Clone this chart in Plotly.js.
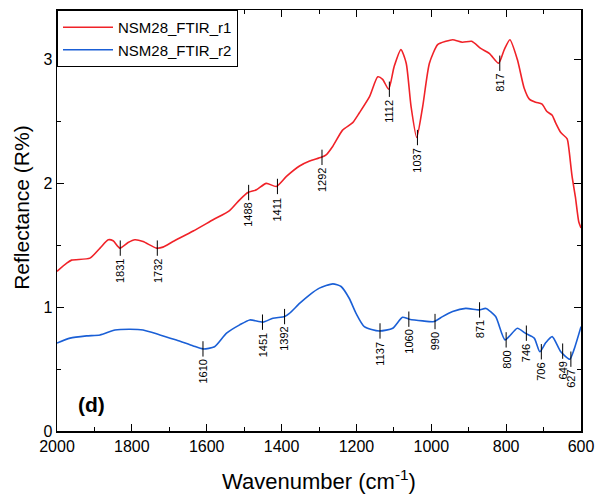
<!DOCTYPE html>
<html>
<head>
<meta charset="utf-8">
<script src="https://cdn.plot.ly/plotly-3.0.1.min.js"></script>
<style>html,body{margin:0;padding:0;background:#fff;}#chart{width:598px;height:497px;}</style>
</head>
<body>
<div id="chart"></div>
<script>
// Series r1 (red)
const r1Wave = [2000,1974,1961,1912,1885,1863,1850,1832,1810,1792,1770,1734,1717,1690,1636,1583,1539,1512,1490,1467,1441,1414,1387,1352,1325,1294,1281,1263,1237,1210,1192,1165,1143,1130,1114,1099,1081,1067,1054,1039,1023,1005,983,961,943,917,892,868,845,820,805,790,770,752,738,721,704,691,677,668,654,637,632,624,615,606,600];
const r1Refl = [1.29,1.356,1.38,1.396,1.477,1.544,1.536,1.477,1.522,1.544,1.53,1.477,1.485,1.53,1.615,1.706,1.78,1.867,1.926,1.948,2.0,1.975,2.056,2.14,2.18,2.21,2.23,2.30,2.43,2.49,2.57,2.70,2.86,2.84,2.76,2.945,3.08,2.97,2.62,2.37,2.62,2.97,3.12,3.147,3.16,3.14,3.147,3.09,3.05,2.97,3.08,3.16,3.0,2.77,2.68,2.655,2.64,2.58,2.55,2.49,2.41,2.36,2.27,2.06,1.89,1.69,1.64];
// Series r2 (blue)
const r2Wave = [2000,1965,1921,1885,1845,1805,1770,1725,1681,1636,1610,1579,1547,1512,1485,1450,1423,1392,1379,1352,1325,1299,1263,1241,1219,1201,1179,1139,1103,1077,1059,1023,992,970,943,908,872,854,828,803,770,749,725,710,694,677,654,630,619,600];
const r2Refl = [0.71,0.75,0.768,0.776,0.816,0.822,0.816,0.776,0.735,0.687,0.663,0.68,0.79,0.857,0.897,0.879,0.911,0.924,0.95,1.03,1.10,1.154,1.188,1.167,1.07,0.95,0.843,0.808,0.83,0.919,0.903,0.889,0.884,0.924,0.965,0.99,0.978,0.99,0.924,0.736,0.83,0.79,0.75,0.64,0.714,0.762,0.64,0.58,0.655,0.843];
// Peak labels
const r1PeakWave = [1831,1732,1488,1411,1292,1112,1037,817];
const r1PeakRefl = [1.477,1.477,1.926,1.975,2.21,2.76,2.37,2.97];
const r2PeakWave = [1610,1451,1392,1137,1060,990,871,800,746,706,649,627];
const r2PeakRefl = [0.663,0.879,0.924,0.808,0.903,0.884,0.978,0.736,0.79,0.64,0.645,0.58];
const seriesNames = ["NSM28_FTIR_r1","NSM28_FTIR_r2"];
const xTicks = [2000,1800,1600,1400,1200,1000,800,600];
const yTicks = [0,1,2,3];

const red = "#f02228", blue = "#1a5fd6";
const FONT = "Liberation Sans, Arial";
const traces = [
  {x:r1Wave,y:r1Refl,type:"scatter",mode:"lines",name:seriesNames[0],line:{color:red,width:1.6,shape:"spline",smoothing:0.6}},
  {x:r2Wave,y:r2Refl,type:"scatter",mode:"lines",name:seriesNames[1],line:{color:blue,width:1.6,shape:"spline",smoothing:0.6}}
];
const half = 0.062;
const shapes = [];
const annotations = [];
function addPeaks(ws, vs){
  ws.forEach((w,i)=>{
    shapes.push({type:"line",xref:"x",yref:"y",x0:w,x1:w,y0:vs[i]-half,y1:vs[i]+half,line:{color:"#000",width:1}});
    annotations.push({x:w,y:vs[i]-half,xref:"x",yref:"y",text:String(w),showarrow:false,textangle:-90,
      xanchor:"center",yanchor:"top",yshift:-1,font:{family:FONT,size:11,color:"#000"}});
  });
}
addPeaks(r1PeakWave,r1PeakRefl);
addPeaks(r2PeakWave,r2PeakRefl);
annotations.push({xref:"paper",yref:"paper",x:0.065,y:0.062,text:"<b>(d)</b>",showarrow:false,xanchor:"center",yanchor:"middle",font:{family:FONT,size:21,color:"#000"}});
annotations.push({xref:"paper",yref:"paper",x:-0.069,y:0.532,text:"Reflectance (R%)",showarrow:false,textangle:-90,xanchor:"center",yanchor:"middle",font:{family:FONT,size:21,color:"#000"}});

const axFont = {family:FONT,size:16,color:"#000"};
const layout = {
  width:598,height:497,
  margin:{l:57,r:17,t:10,b:66},
  paper_bgcolor:"#fff",plot_bgcolor:"#fff",
  showlegend:true,
  legend:{x:0,y:1,xanchor:"left",yanchor:"top",bordercolor:"#000",borderwidth:1,bgcolor:"#fff",
    font:{family:FONT,size:15,color:"#000"},itemwidth:50,tracegroupgap:0},
  xaxis:{range:[2000,600],tickvals:xTicks,ticks:"inside",ticklen:7,tickwidth:1,tickcolor:"#000",
    minor:{dtick:100,ticks:"inside",ticklen:4,tickcolor:"#000"},
    showline:true,linecolor:"#000",linewidth:1.5,mirror:"ticks",showgrid:false,zeroline:false,
    tickfont:axFont,title:{text:"Wavenumber (cm<sup>-1</sup>)",font:{family:FONT,size:22,color:"#000"},standoff:20}},
  yaxis:{range:[0,3.4],tickvals:yTicks,ticks:"inside",ticklen:7,tickwidth:1,tickcolor:"#000",
    minor:{dtick:0.5,ticks:"inside",ticklen:4,tickcolor:"#000"},
    showline:true,linecolor:"#000",linewidth:1.5,mirror:"ticks",showgrid:false,zeroline:false,
    tickfont:axFont},
  shapes:shapes,annotations:annotations
};
Plotly.newPlot("chart",traces,layout,{staticPlot:true,displayModeBar:false});
</script>
</body>
</html>
